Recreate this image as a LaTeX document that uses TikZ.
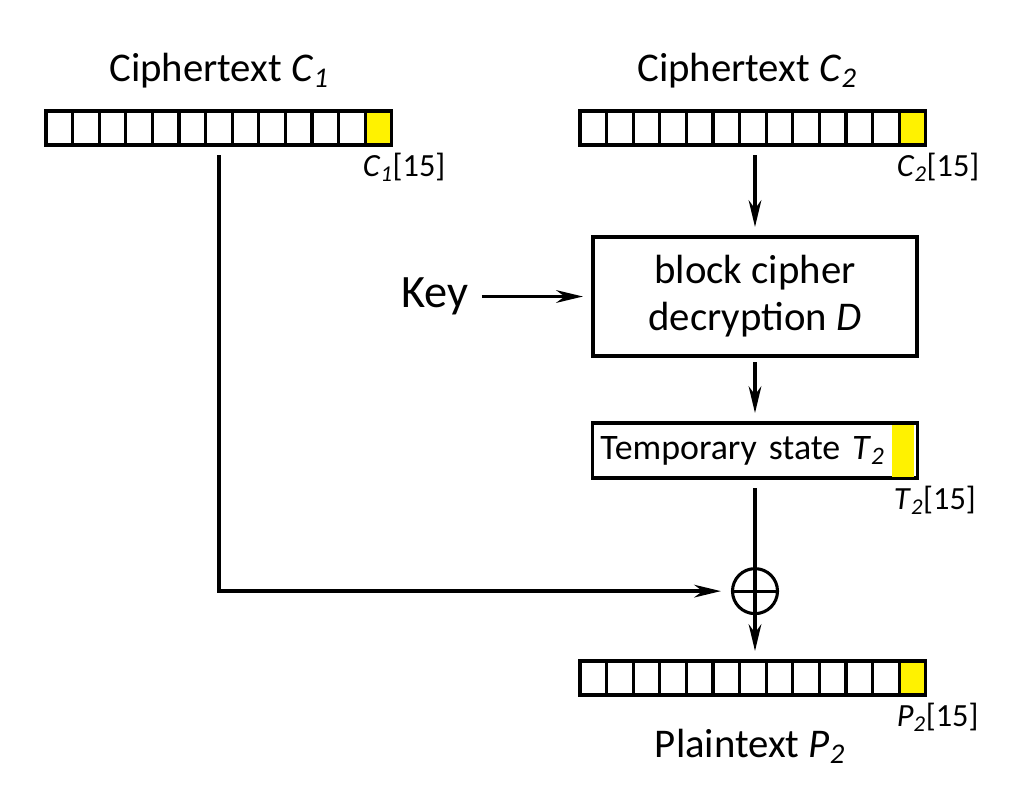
\documentclass[tikz,border=0pt]{standalone}
\usepackage{fontspec}
\setmainfont{Carlito}
\usetikzlibrary{positioning,arrows.meta}
\newcommand{\vsub}[2]{\textit{#1}\textsubscript{\textit{#2}}}

\begin{document}
\begin{tikzpicture}[x=0.025cm,y=-0.025cm,line width=2.5pt,
  cell/.style={draw,line width=2.4pt,minimum width=0.665cm,minimum height=0.85cm,inner sep=0pt,outer sep=0pt},
  block/.style={draw,line width=2.6pt,inner sep=0pt,outer sep=0pt},
  title/.style={font=\fontsize{29}{34}\selectfont,inner sep=0pt},
  idx/.style={font=\fontsize{23}{27}\selectfont,inner sep=0pt},
  arr/.style={-{Stealth[length=19pt,width=9pt,inset=6pt]},shorten >=0.25cm}]
  \useasboundingbox (0,0) rectangle (1009,792);
  % byte arrays
  \foreach \a/\x/\y in {c1/46/128,c2/580/128,p2/580/678}{
    \foreach \i in {1,...,12}
      \node[cell] (\a-\i) at ({\x+26.6*(\i-0.5)},\y) {};
    \node[cell,fill=yellow] (\a-13) at ({\x+26.6*12.5},\y) {};
  }
  \node[title,anchor=base] (c1t) at (219,81) {Ciphertext \vsub{C}{1}};
  \node[title,anchor=base] (c2t) at (747,81) {Ciphertext \vsub{C}{2}};
  \node[title,anchor=base] (p2t) at (750,757) {Plaintext \vsub{P}{2}};
  \node[idx,below right=0.15cm and -0.1cm of c1-13.south west] (c1i) {\vsub{C}{1}[15]};
  \node[idx,below right=0.15cm and -0.1cm of c2-13.south west] (c2i) {\vsub{C}{2}[15]};
  \node[idx,below right=0.15cm and -0.1cm of p2-13.south west] (p2i) {\vsub{P}{2}[15]};
  % cipher and state
  \node[block,minimum width=8.1cm,minimum height=2.975cm,align=center,
        font=\fontsize{29}{33.4}\selectfont] (dec) at (755,296.5) {block cipher\\decryption \textit{D}};
  \node[font=\fontsize{33}{38}\selectfont,inner sep=0pt,left=3.075cm of dec] (key) {Key};
  \node[block,below=1.675cm of dec,minimum height=1.375cm,text width=7.725cm,inner xsep=0.2cm,
        align=left,font=\fontsize{25.5}{30}\selectfont] (tmp) {Temporary state \vsub{T}{2}};
  \node[fill=yellow,minimum width=0.55cm,minimum height=1.3cm,inner sep=0pt,anchor=east]
        (t15) at ([xshift=-1.3pt]tmp.east) {};
  \node[idx,below right=0.15cm and 0.05cm of t15.south west] (t2i) {\vsub{T}{2}[15]};
  \node[circle,draw,line width=2.2pt,minimum size=1.125cm,inner sep=0pt,below=2.225cm of tmp] (xor) {};
  \draw[line width=2.2pt] (xor.north) -- (xor.south) (xor.west) -- (xor.east);
  % connectors
  \draw[arr,shorten <=0.25cm] (dec.north |- c2-7.south) -- (dec.north);
  \draw[arr,shorten <=0.3cm] (key) -- (dec);
  \draw[arr,shorten <=0.15cm] (dec) -- (tmp);
  \draw[shorten <=0.25cm] (tmp) -- (xor);
  \draw[arr,shorten <=0.25cm] (c1-7.south) |- (xor);
  \draw[arr] (xor.south) -- (xor.south |- p2-7.north);
\end{tikzpicture}
\end{document}
